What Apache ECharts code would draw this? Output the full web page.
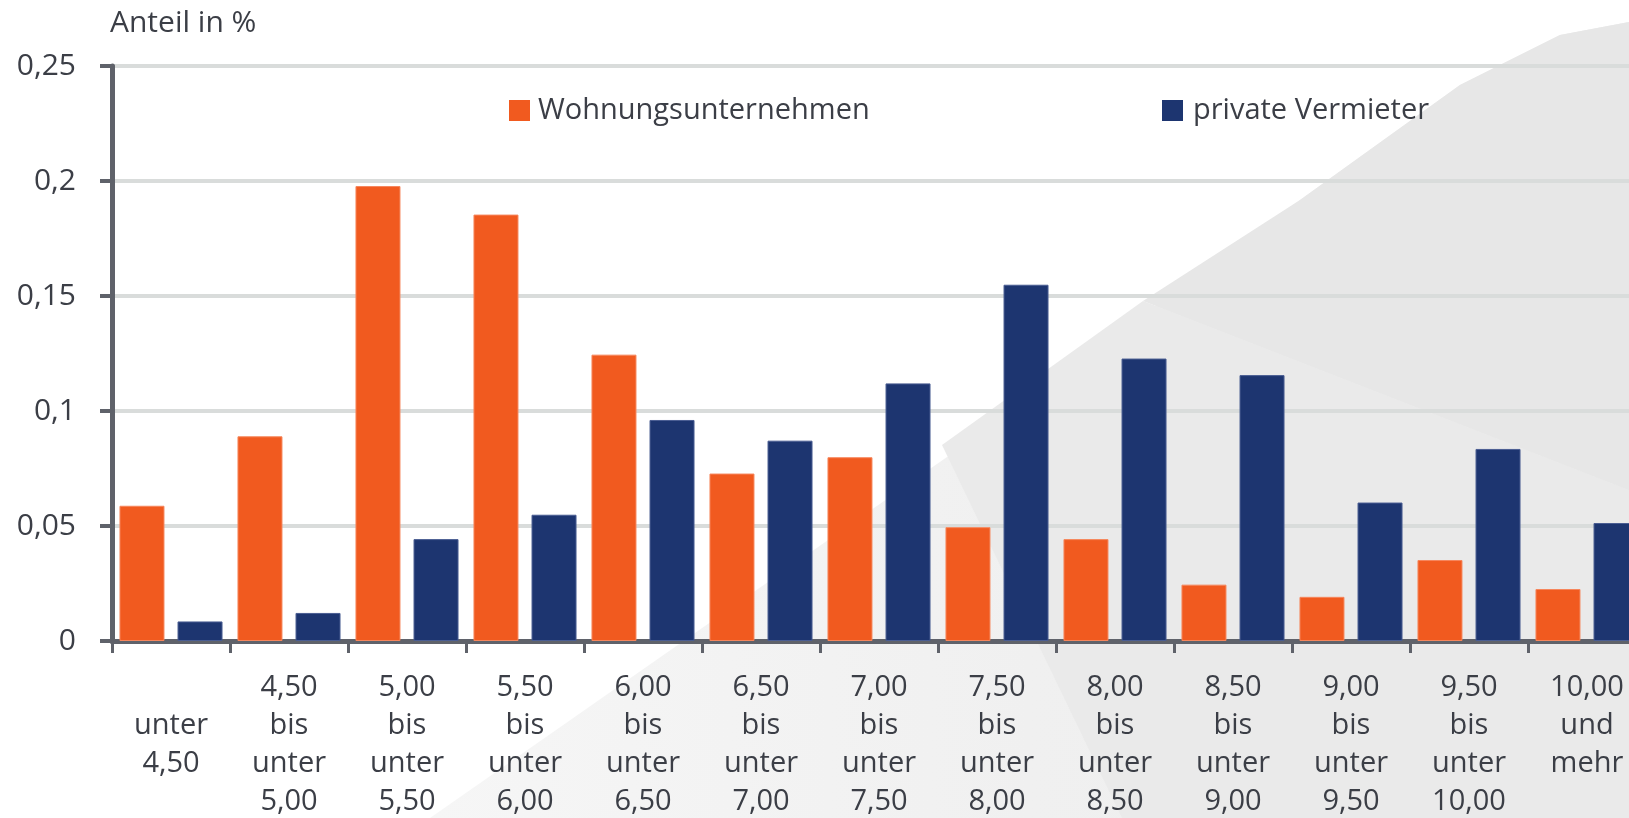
<!DOCTYPE html>
<html>
<head>
<meta charset="utf-8">
<script src="https://cdn.jsdelivr.net/npm/echarts@6/dist/echarts.min.js"></script>
<style>
  html, body { margin: 0; padding: 0; background: #fff; }
  #chart { width: 1629px; height: 818px; }
</style>
</head>
<body>
<div id="chart"></div>
<script>
// Mietpreisklassen (Euro/m²), jeweils Zeilen der Achsenbeschriftung
const categories = [
    ['', 'unter', '4,50'],
    ['4,50', 'bis', 'unter', '5,00'],
    ['5,00', 'bis', 'unter', '5,50'],
    ['5,50', 'bis', 'unter', '6,00'],
    ['6,00', 'bis', 'unter', '6,50'],
    ['6,50', 'bis', 'unter', '7,00'],
    ['7,00', 'bis', 'unter', '7,50'],
    ['7,50', 'bis', 'unter', '8,00'],
    ['8,00', 'bis', 'unter', '8,50'],
    ['8,50', 'bis', 'unter', '9,00'],
    ['9,00', 'bis', 'unter', '9,50'],
    ['9,50', 'bis', 'unter', '10,00'],
    ['10,00', 'und', 'mehr']
]

const seriesNames = ['Wohnungsunternehmen', 'private Vermieter']

const wohnungsunternehmen = [0.0588, 0.089, 0.1978, 0.1854, 0.1245, 0.0728, 0.0799, 0.0495, 0.0443, 0.0245, 0.0192, 0.0352, 0.0226]
const privateVermieter = [0.0085, 0.0122, 0.0443, 0.0549, 0.0961, 0.0871, 0.112, 0.1549, 0.1228, 0.1156, 0.0602, 0.0835, 0.0513]

const yTicks = [0, 0.05, 0.1, 0.15, 0.2, 0.25]
const yTickLabels = ['0', '0,05', '0,1', '0,15', '0,2', '0,25']

const textColor = '#3b3e46'
const axisColor = '#5f626a'
const fontFamily = '"Open Sans", "Noto Sans", sans-serif'

let chartDom = document.getElementById('chart')
let myChart = echarts.init(chartDom, null, {renderer: 'canvas'})
let option

option = {
    backgroundColor: '#ffffff',
    animation: false,
    // heller Hintergrund-Keil rechts unten
    graphic: {
        elements: [
            {
                type: 'polygon', z: -10, silent: true,
                shape: {points: [[430, 818], [1000, 420], [1300, 200], [1460, 85], [1560, 35], [1629, 22], [1629, 818]]},
                style: {
                    fill: new echarts.graphic.LinearGradient(0, 0, 1, 0, [
                        {offset: 0, color: '#f6f6f6'},
                        {offset: 0.5, color: '#f0f0f0'},
                        {offset: 1, color: '#ececec'}
                    ])
                }
            },
            {
                type: 'polygon', z: -9, silent: true,
                shape: {points: [[942, 445], [1143, 301], [1629, 490], [1629, 818], [1122, 818]]},
                style: {fill: '#eaeaea'}
            },
            {
                type: 'polygon', z: -9, silent: true,
                shape: {points: [[1143, 301], [1300, 200], [1460, 85], [1560, 35], [1629, 22], [1629, 490]]},
                style: {fill: '#e7e7e7'}
            }
        ]
    },
    title: {
        text: 'Anteil in %',
        left: 110,
        top: 8,
        padding: 0,
        textStyle: {
            fontFamily: fontFamily,
            fontSize: 30,
            fontWeight: 'normal',
            color: textColor,
            lineHeight: 30
        }
    },
    legend: [
        {
            data: [seriesNames[0]],
            left: 509,
            top: 96,
            padding: 0,
            icon: 'rect',
            itemWidth: 21,
            itemHeight: 21,
            itemStyle: {borderWidth: 0},
            textStyle: {fontFamily: fontFamily, fontSize: 29, color: textColor, lineHeight: 22, padding: [0, 0, 0, 3]}
        },
        {
            data: [seriesNames[1]],
            left: 1162,
            top: 96,
            padding: 0,
            icon: 'rect',
            itemWidth: 21,
            itemHeight: 21,
            itemStyle: {borderWidth: 0},
            textStyle: {fontFamily: fontFamily, fontSize: 29, color: textColor, lineHeight: 22, padding: [0, 0, 0, 5]}
        }
    ],
    grid: {
        left: 112,
        top: 66,
        width: 1534,
        bottom: 177,
        containLabel: false,
        outerBoundsMode: 'none'
    },
    xAxis: {
        type: 'category',
        data: categories.map(lines => lines.join('\n')),
        axisLine: {lineStyle: {color: axisColor, width: 5}},
        axisTick: {show: true, length: 12, lineStyle: {color: axisColor, width: 3}},
        axisLabel: {
            interval: 0,
            margin: 28,
            fontFamily: fontFamily,
            fontSize: 29,
            lineHeight: 38,
            color: textColor,
            align: 'center'
        },
        splitLine: {show: false}
    },
    yAxis: {
        type: 'value',
        min: yTicks[0],
        max: yTicks[yTicks.length - 1],
        interval: 0.05,
        axisLine: {show: true, lineStyle: {color: axisColor, width: 5}},
        axisTick: {show: true, length: 12, lineStyle: {color: axisColor, width: 4}},
        axisLabel: {
            margin: 36,
            fontFamily: fontFamily,
            fontSize: 30,
            color: textColor,
            formatter: function (value) {
                let idx = yTicks.findIndex(t => Math.abs(t - value) < 1e-9)
                return idx >= 0 ? yTickLabels[idx] : ''
            }
        },
        splitLine: {show: true, lineStyle: {color: '#d9dcdb', width: 4}}
    },
    series: [
        {
            name: seriesNames[0],
            type: 'bar',
            data: wohnungsunternehmen,
            barWidth: 45,
            barGap: '29%',
            itemStyle: {color: '#f15a1f', borderColor: '#f6865c', borderWidth: 1}
        },
        {
            name: seriesNames[1],
            type: 'bar',
            data: privateVermieter,
            barWidth: 45,
            barGap: '29%',
            itemStyle: {color: '#1d3570', borderColor: '#4a5d92', borderWidth: 1}
        }
    ]
}

option && myChart.setOption(option)
</script>
</body>
</html>
